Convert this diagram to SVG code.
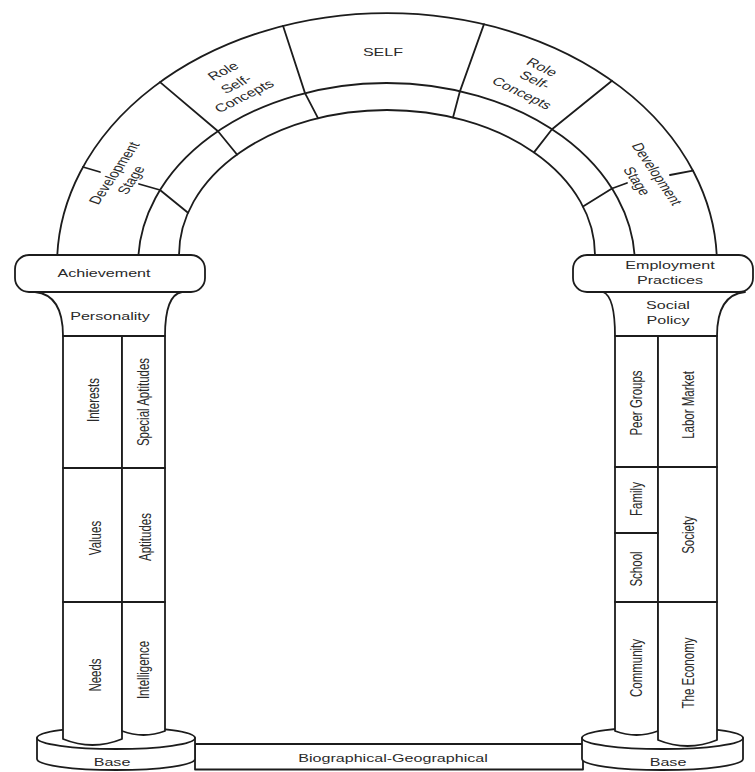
<svg xmlns="http://www.w3.org/2000/svg" width="755" height="772" viewBox="0 0 755 772">
<style>
.ln{fill:none;stroke:#1c1c1c;stroke-width:1.8;stroke-linejoin:round;stroke-linecap:round}
.sh{fill:#fff;stroke:#1c1c1c;stroke-width:1.8;stroke-linejoin:round}
.t{font-family:"Liberation Sans",Arial,sans-serif;font-size:11.5px;fill:#2a2a2a;text-anchor:middle}
</style>
<rect width="755" height="772" fill="#fff"/>
<g id="arch">
<path class="ln" d="M57,265 A330,252 0 0 1 717,265"/>
<path class="ln" d="M138,265 A248.5,182 0 0 1 635,265"/>
<path class="ln" d="M179,265 L179,255 A208,145 0 0 1 595,255 L595,265"/>
<polyline class="ln" points="283,25.8 305,93.1 318,118.2"/>
<polyline class="ln" points="484,24.1 460,91.1 453,117.5"/>
<polyline class="ln" points="160,82.1 218,131.2 237,154.5"/>
<polyline class="ln" points="612,80.7 552,129.2 534,152.4"/>
<line class="ln" x1="160" y1="190" x2="188" y2="212.8"/>
<line class="ln" x1="612" y1="188.5" x2="583" y2="206.5"/>
<line class="ln" x1="160" y1="190" x2="139" y2="184"/>
<line class="ln" x1="612" y1="188.5" x2="627" y2="183"/>
<line class="ln" x1="83" y1="167" x2="100" y2="172"/>
<line class="ln" x1="693" y1="170.6" x2="670" y2="175"/>
</g>
<g id="self"><text class="t" transform="translate(383,56) scale(1.4,1)">SELF</text></g>
<g id="role-left">
<text class="t" dy="0.35em" transform="translate(223,71) scale(1.4,1) rotate(-35)">Role</text>
<text class="t" dy="0.35em" transform="translate(236,84) scale(1.4,1) rotate(-35)">Self-</text>
<text class="t" dy="0.35em" transform="translate(244,96) scale(1.4,1) rotate(-35)">Concepts</text>
</g>
<g id="role-right">
<text class="t" dy="0.35em" transform="translate(542,67) scale(1.4,1) rotate(34)">Role</text>
<text class="t" dy="0.35em" transform="translate(535,80) scale(1.4,1) rotate(34)">Self-</text>
<text class="t" dy="0.35em" transform="translate(522,93) scale(1.4,1) rotate(34)">Concepts</text>
</g>
<g id="dev-left">
<text class="t" dy="0.35em" transform="translate(114,173) scale(1.4,1) rotate(-64)">Development</text>
<text class="t" dy="0.35em" transform="translate(131,180) scale(1.4,1) rotate(-64)">Stage</text>
</g>
<g id="dev-right">
<text class="t" dy="0.35em" transform="translate(657,174) scale(1.4,1) rotate(64)">Development</text>
<text class="t" dy="0.35em" transform="translate(637,181) scale(1.4,1) rotate(64)">Stage</text>
</g>
<g id="biographical-geographical">
<rect class="sh" x="195" y="744" width="388" height="25.5"/>
<text class="t" transform="translate(393,762) scale(1.4,1)">Biographical-Geographical</text>
</g>
<g id="base-left">
<path class="sh" d="M37,738 A79,11 0 0 1 195,738 L195,759 A79,11 0 0 1 37,759 Z"/>
<path class="ln" d="M37,738 A79,11 0 0 0 195,738"/>
<text class="t" transform="translate(112,766) scale(1.4,1)">Base</text>
</g>
<g id="base-right">
<path class="sh" d="M582,738 A80.5,11 0 0 1 743,738 L743,759 A80.5,11 0 0 1 582,759 Z"/>
<path class="ln" d="M582,738 A80.5,11 0 0 0 743,738"/>
<text class="t" transform="translate(668,766) scale(1.4,1)">Base</text>
</g>
<g id="left-column">
<path class="sh" d="M63,336 L63,739 Q92.5,751 122,739 L122,336 Z"/>
<path class="sh" d="M122,336 L122,731 Q143.5,739 165,731 L165,336 Z"/>
<line class="ln" x1="63" y1="468" x2="165" y2="468"/>
<line class="ln" x1="63" y1="602" x2="165" y2="602"/>
</g>
<g id="interests"><text class="t" dy="0.35em" transform="translate(93,400) scale(1.4,1) rotate(-90)">Interests</text></g>
<g id="special-aptitudes"><text class="t" dy="0.35em" transform="translate(143,402) scale(1.4,1) rotate(-90)">Special Aptitudes</text></g>
<g id="values"><text class="t" dy="0.35em" transform="translate(95,538) scale(1.4,1) rotate(-90)">Values</text></g>
<g id="aptitudes"><text class="t" dy="0.35em" transform="translate(145,537) scale(1.4,1) rotate(-90)">Aptitudes</text></g>
<g id="needs"><text class="t" dy="0.35em" transform="translate(95,675) scale(1.4,1) rotate(-90)">Needs</text></g>
<g id="intelligence"><text class="t" dy="0.35em" transform="translate(143,670) scale(1.4,1) rotate(-90)">Intelligence</text></g>
<g id="right-column">
<path class="sh" d="M615,336 L615,731 Q636.5,739 658,731 L658,336 Z"/>
<path class="sh" d="M658,336 L658,740 Q687.5,752 717,740 L717,336 Z"/>
<line class="ln" x1="615" y1="467" x2="717" y2="467"/>
<line class="ln" x1="615" y1="533" x2="658" y2="533"/>
<line class="ln" x1="615" y1="602" x2="717" y2="602"/>
</g>
<g id="peer-groups"><text class="t" dy="0.35em" transform="translate(636,403) scale(1.4,1) rotate(-90)">Peer Groups</text></g>
<g id="labor-market"><text class="t" dy="0.35em" transform="translate(688,405) scale(1.4,1) rotate(-90)">Labor Market</text></g>
<g id="family"><text class="t" dy="0.35em" transform="translate(636,499) scale(1.4,1) rotate(-90)">Family</text></g>
<g id="society"><text class="t" dy="0.35em" transform="translate(688,535) scale(1.4,1) rotate(-90)">Society</text></g>
<g id="school"><text class="t" dy="0.35em" transform="translate(636,569) scale(1.4,1) rotate(-90)">School</text></g>
<g id="community"><text class="t" dy="0.35em" transform="translate(636,668) scale(1.4,1) rotate(-90)">Community</text></g>
<g id="the-economy"><text class="t" dy="0.35em" transform="translate(688,673) scale(1.4,1) rotate(-90)">The Economy</text></g>
<g id="personality">
<path class="sh" d="M35,292 C55,294 63,310 63,336 L165,336 C165,310 170,294 182,292 Z"/>
<text class="t" transform="translate(110,320) scale(1.4,1)">Personality</text>
</g>
<g id="achievement">
<rect class="sh" x="15" y="255" width="190" height="37" rx="14"/>
<text class="t" transform="translate(104,277) scale(1.4,1)">Achievement</text>
</g>
<g id="social-policy">
<path class="sh" d="M603,292 C611,295 615,310 615,336 L717,336 C717,310 725,294 745,292 Z"/>
<text class="t" transform="translate(668,309) scale(1.4,1)">Social</text>
<text class="t" transform="translate(668,324) scale(1.4,1)">Policy</text>
</g>
<g id="employment-practices">
<rect class="sh" x="573" y="255" width="180" height="37" rx="14"/>
<text class="t" transform="translate(670,269) scale(1.4,1)">Employment</text>
<text class="t" transform="translate(670,284) scale(1.4,1)">Practices</text>
</g>
</svg>
